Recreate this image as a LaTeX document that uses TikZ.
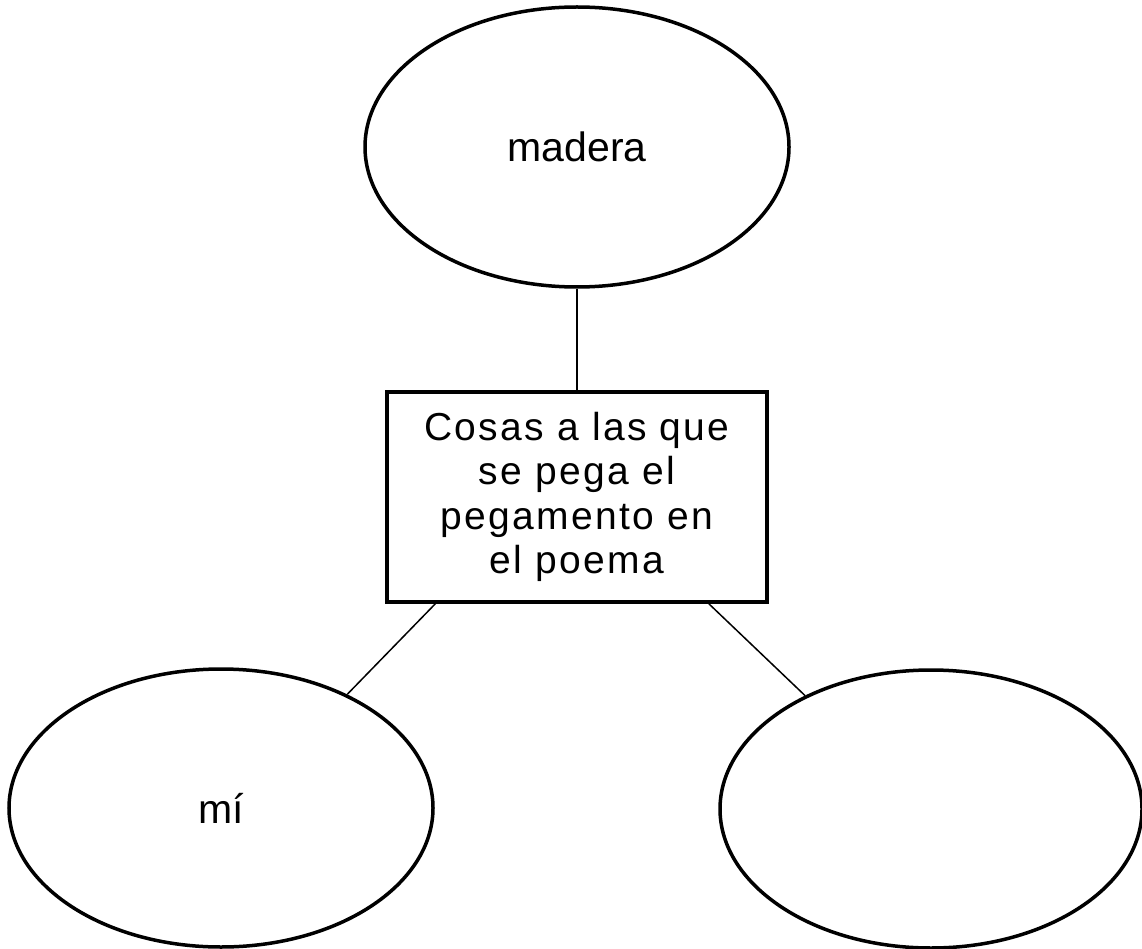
\documentclass[tikz,border=0pt]{standalone}
\usepackage{fontspec}
\setmainfont{Liberation Sans}
\newfontfamily\boxfont[LetterSpace=6]{Liberation Sans}
\usetikzlibrary{shapes.geometric}

\tikzset{
  idea/.style = {
    ellipse,                    % bubble shape
    draw          = black,      % border
    line width    = 3.5pt,      % border width
    minimum width = 424pt,      %
    minimum height= 280pt,      %
    inner sep     = 0pt,        %
    font          = \fontsize{41}{46}\selectfont,%
    text          = black,      % inner label color
    fill          = white,
  },
  tema/.style = {
    rectangle,                  % central box
    draw          = black,      % border
    line width    = 3.5pt,      % border width
    minimum width = 380pt,      %
    minimum height= 210pt,      %
    inner sep     = 0pt,        %
    align         = center,     %
    font          = \boxfont\fontsize{39}{44.5}\selectfont,%
    text          = black,      %
    fill          = white,
  },
  link/.style = {
    draw          = black,      % connector
    line width    = 1.5pt,      %
  },
}

\begin{document}
\begin{tikzpicture}[x=1pt, y=-1pt]
\useasboundingbox (0, 0) rectangle (1142, 949);

\node at (577, 497) [tema] (cosas)
  {Cosas a las que\\se pega el\\pegamento en\\el poema} ;

\node at (577, 147) [idea] (madera) {madera} ;
\node at (221, 808) [idea, minimum height = 278pt] (mi) {mí} ;
\node at (931, 809) [idea, minimum width = 422pt, minimum height = 278pt] (vacio) {} ;

% connectors
\draw [link] (madera.south) -- (cosas.north) ;
\draw [link] (cosas.217.7) -- (mi.42) ;
\draw [link] (cosas.321.5) -- (vacio.138.8) ;
\end{tikzpicture}
\end{document}
